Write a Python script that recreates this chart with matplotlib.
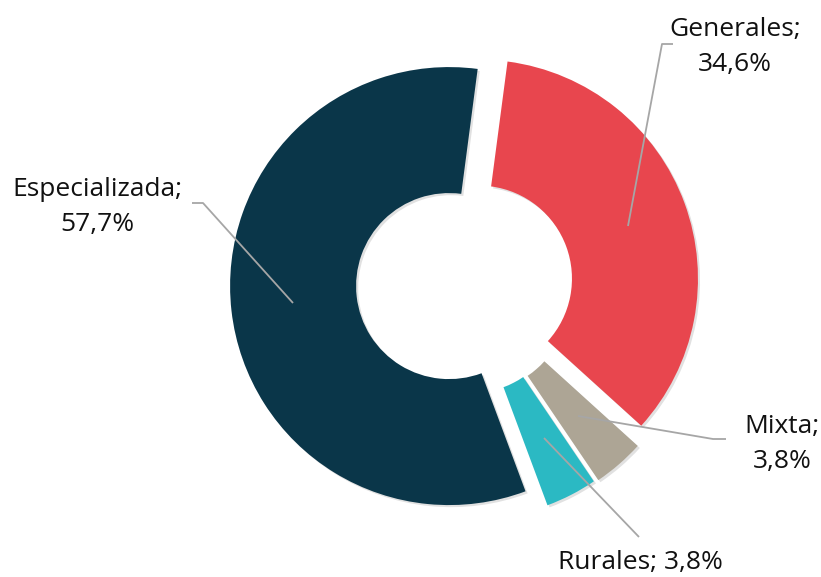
import matplotlib
matplotlib.use("Agg")
import matplotlib.pyplot as plt
import matplotlib.patheffects as pe

# data (clockwise from the top)
categories = ["Generales", "Mixta", "Rurales", "Especializada"]
shares = [34.6, 3.8, 3.8, 57.7]
label_texts = ["Generales;\n34,6%", "Mixta;\n3,8%", "Rurales; 3,8%", "Especializada;\n57,7%"]
colors = ["#E8464E", "#ADA595", "#2BB9C3", "#0A3649"]

W, H = 821, 577
fig = plt.figure(figsize=(W / 100, H / 100), dpi=100)
ax = fig.add_axes([0, 0, 1, 1])

# pie geometry in pixel units (y measured upward)
cx, cy = 463, H - 284.5
radius = 219
ring = 126
explode = [17, 19, 17.5, 14]

wedges, _ = ax.pie(shares, colors=colors, startangle=82.5, counterclock=False,
                   radius=radius, center=(cx, cy), explode=explode,
                   wedgeprops=dict(width=ring, linewidth=0))
for w in wedges:
    w.set_path_effects([pe.SimplePatchShadow(offset=(1.5, -1.5), shadow_rgbFace="#888888", alpha=0.25),
                        pe.Normal()])

ax.set_xlim(0, W)
ax.set_ylim(0, H)
ax.set_aspect("equal")
ax.axis("off")

plt.rcParams["font.family"] = ["Open Sans", "DejaVu Sans"]
line_c = "#A6A6A6"
fs = 19

# leader lines (image coords -> flip y)
leaders = [
    [(628, 226), (662, 44), (673, 44)],
    [(578, 416), (713, 439), (726, 439)],
    [(544, 438), (639, 537)],
    [(293, 303), (203, 203), (192, 203)],
]
for pts in leaders:
    xs = [p[0] for p in pts]
    ys = [H - p[1] for p in pts]
    ax.plot(xs, ys, color=line_c, lw=1.3, solid_capstyle="butt")

label_pos = [(735, 47), (782, 444), (640, 562), (97, 207)]
for txt, (x, y) in zip(label_texts, label_pos):
    ax.text(x, H - y, txt, ha="center", va="center", fontsize=fs,
            color="#111111", linespacing=1.55)

fig.savefig("out.png", dpi=100)
